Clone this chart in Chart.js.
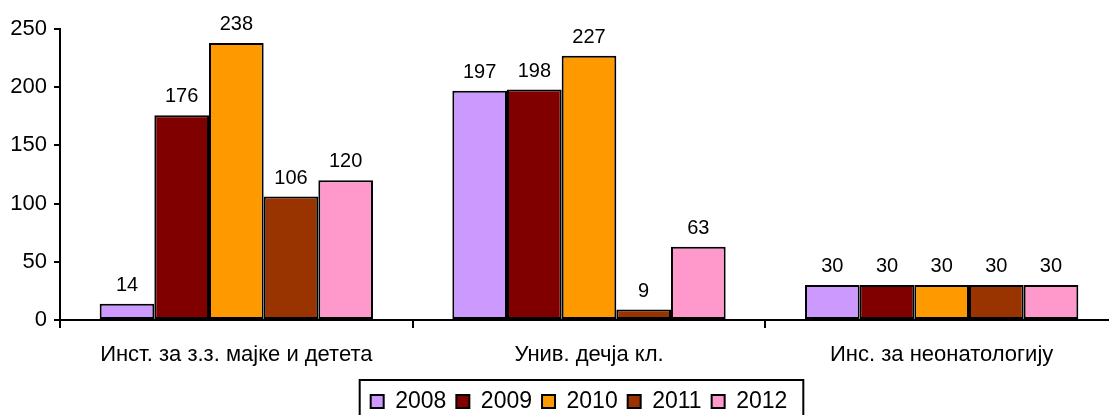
<!DOCTYPE html>
<html>
<head>
<meta charset="utf-8">
<script src="https://cdn.jsdelivr.net/npm/chart.js@4/dist/chart.umd.min.js"></script>
<style>
  html, body { margin: 0; padding: 0; background: #fff; overflow: hidden; }
  #wrap { width: 1118px; height: 415px; overflow: hidden; }
</style>
</head>
<body>
<div id="wrap"><canvas id="myChart" width="1118" height="423"></canvas></div>
<script>
"use strict";
// categories + series
const categories = ["Инст. за з.з. мајке и детета", "Унив. дечја кл.", "Инс. за неонатологију"];
const years = ["2008", "2009", "2010", "2011", "2012"];
const colors = ["#CC99FF", "#800000", "#FF9900", "#993300", "#FF99CC"];
const v2008 = [14, 197, 30];
const v2009 = [176, 198, 30];
const v2010 = [238, 227, 30];
const v2011 = [106, 9, 30];
const v2012 = [120, 63, 30];
const yTicks = [0, 50, 100, 150, 200, 250];

const FONT = "'Liberation Sans', Arial, sans-serif";
const allValues = [v2008, v2009, v2010, v2011, v2012];

// draws the value above each bar
const barLabels = {
  id: "barLabels",
  afterDatasetsDraw(chart) {
    const ctx = chart.ctx;
    ctx.save();
    ctx.font = "20px " + FONT;
    ctx.fillStyle = "#000";
    ctx.textAlign = "center";
    ctx.textBaseline = "alphabetic";
    chart.data.datasets.forEach((ds, i) => {
      chart.getDatasetMeta(i).data.forEach((bar, j) => {
        ctx.fillText(String(ds.data[j]), bar.x, bar.y - 13);
      });
    });
    ctx.restore();
  },
};

// nudge the legend a bit left, then draw a black frame round it
// (bottom edge falls off the page like the original)
const legendFrame = {
  id: "legendFrame",
  afterLayout(chart) {
    if (!chart.legend) return;
    chart.legend.left -= 10;
    chart.legend.right -= 10;
  },
  afterDraw(chart) {
    const lg = chart.legend;
    if (!lg) return;
    const ctx = chart.ctx;
    let minX = Infinity, maxX = -Infinity;
    lg.legendHitBoxes.forEach((b) => {
      minX = Math.min(minX, b.left);
      maxX = Math.max(maxX, b.left + b.width);
    });
    ctx.save();
    ctx.strokeStyle = "#000";
    ctx.lineWidth = 2;
    ctx.strokeRect(minX - 11, 380, maxX - minX + 27, 60);
    ctx.restore();
  },
};

const data = {
  labels: categories,
  datasets: years.map((y, i) => ({
    label: y,
    data: allValues[i],
    backgroundColor: colors[i],
    borderColor: "#000",
    borderWidth: 2,
    borderSkipped: false,
    categoryPercentage: 0.775,
    barPercentage: 1.0,
  })),
};

const config = {
  type: "bar",
  data: data,
  options: {
    responsive: false,
    animation: false,
    layout: { padding: { top: 29, left: 0, right: 0, bottom: 0 } },
    plugins: {
      legend: {
        position: "bottom",
        fullSize: false,
        labels: {
          font: { family: FONT, size: 23 },
          color: "#000",
          boxWidth: 13,
          boxHeight: 13,
          padding: 10,
          generateLabels(chart) {
            return chart.data.datasets.map((ds, i) => ({
              text: ds.label,
              fillStyle: ds.backgroundColor,
              strokeStyle: "#000",
              lineWidth: 2,
              fontColor: "#000",
              datasetIndex: i,
            }));
          },
        },
      },
      tooltip: { enabled: false },
    },
    scales: {
      x: {
        offset: true,
        grid: { drawOnChartArea: false, drawTicks: true, tickLength: 8, color: "#000", lineWidth: 2, offset: true },
        border: { color: "#000", width: 2 },
        ticks: { font: { family: FONT, size: 22 }, color: "#000", padding: 14, maxRotation: 0 },
        afterFit(scale) { scale.height = 60; },
      },
      y: {
        min: 0,
        max: 250,
        afterBuildTicks(scale) { scale.ticks = yTicks.map((v) => ({ value: v })); },
        grid: { drawOnChartArea: false, drawTicks: true, tickLength: 6, color: "#000", lineWidth: 2 },
        border: { color: "#000", width: 2 },
        ticks: { font: { family: FONT, size: 22 }, color: "#000", padding: 7 },
        afterFit(scale) { scale.width = 60; },
      },
    },
  },
  plugins: [barLabels, legendFrame],
};

const myChart = new Chart(document.getElementById("myChart"), config);
</script>
</body>
</html>
